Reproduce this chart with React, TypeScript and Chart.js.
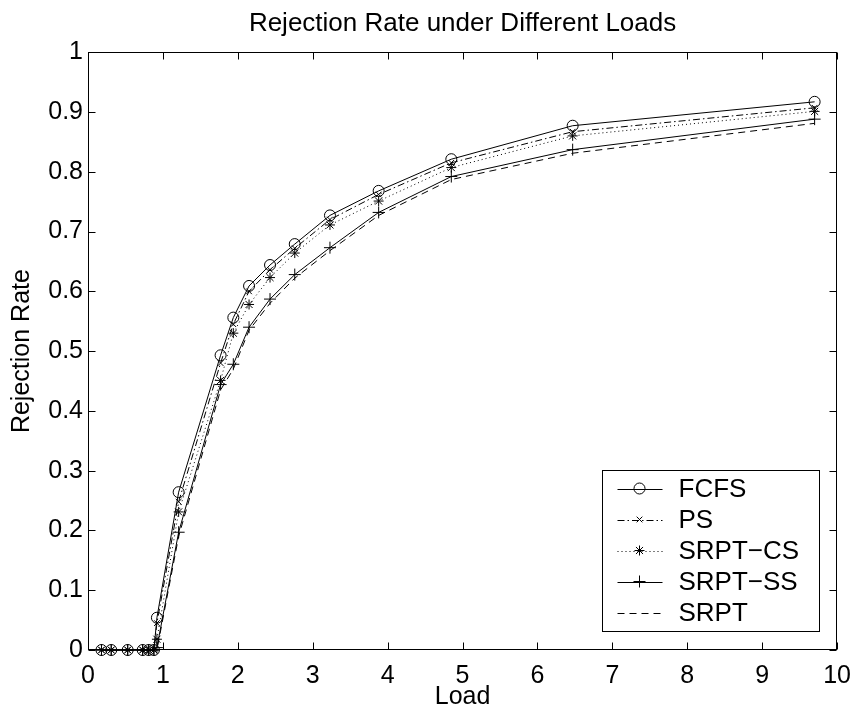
import React, { useEffect, useRef } from 'react';
import { Chart, registerables } from 'chart.js';

Chart.register(...registerables);

const loads = [0.18, 0.31, 0.53, 0.73, 0.81, 0.88, 0.92, 1.21, 1.77, 1.94, 2.15, 2.43, 2.76, 3.23, 3.88, 4.85, 6.47, 9.7];
const fcfs = [0, 0, 0, 0, 0, 0, 0.054, 0.264, 0.493, 0.556, 0.609, 0.644, 0.679, 0.727, 0.768, 0.821, 0.877, 0.917];
const ps = [0, 0, 0, 0, 0, 0, 0.045, 0.248, 0.48, 0.545, 0.6, 0.636, 0.672, 0.72, 0.762, 0.815, 0.867, 0.907];
const srptCs = [0, 0, 0, 0, 0, 0, 0.018, 0.231, 0.451, 0.53, 0.578, 0.623, 0.664, 0.711, 0.751, 0.807, 0.86, 0.901];
const srptSs = [0, 0, 0, 0, 0, 0, 0.004, 0.197, 0.444, 0.478, 0.54, 0.587, 0.628, 0.673, 0.732, 0.792, 0.837, 0.888];
const srpt = [0, 0, 0, 0, 0, 0, 0, 0.19, 0.435, 0.47, 0.535, 0.58, 0.622, 0.668, 0.727, 0.787, 0.831, 0.881];

const seriesNames = ['FCFS', 'PS', 'SRPT-CS', 'SRPT-SS', 'SRPT'];
const legendLabels = ['FCFS', 'PS', 'SRPT\u2212CS', 'SRPT\u2212SS', 'SRPT'];
const xTickLabels = ['0', '1', '2', '3', '4', '5', '6', '7', '8', '9', '10'];
const yTickLabels = ['0', '0.1', '0.2', '0.3', '0.4', '0.5', '0.6', '0.7', '0.8', '0.9', '1'];
const titleText = 'Rejection Rate under Different Loads';
const xTitle = 'Load';
const yTitle = 'Rejection Rate';

const FONT = "'Liberation Sans', Arial, Helvetica, sans-serif";

const styles = [
  { dash: [], point: 'circle', r: 5.5 },
  { dash: [7, 3, 1.5, 3], point: 'crossRot', r: 4 },
  { dash: [1, 3], point: 'star', r: 5 },
  { dash: [], point: 'cross', r: 6 },
  { dash: [7, 5], point: 'none', r: 0 },
];

function drawMarker(ctx: CanvasRenderingContext2D, kind: string, x: number, y: number, r: number) {
  ctx.save();
  ctx.setLineDash([]);
  ctx.beginPath();
  if (kind === 'circle') {
    ctx.arc(x, y, r, 0, Math.PI * 2);
  } else if (kind === 'cross' || kind === 'star') {
    ctx.moveTo(x - r, y); ctx.lineTo(x + r, y);
    ctx.moveTo(x, y - r); ctx.lineTo(x, y + r);
  }
  if (kind === 'crossRot' || kind === 'star') {
    const d = r * Math.SQRT1_2;
    ctx.moveTo(x - d, y - d); ctx.lineTo(x + d, y + d);
    ctx.moveTo(x - d, y + d); ctx.lineTo(x + d, y - d);
  }
  ctx.stroke();
  ctx.restore();
}

const boxPlugin = {
  id: 'matlabBox',
  afterDatasetsDraw(chart: any) {
    const { ctx, chartArea: a, scales } = chart;
    const L = Math.round(a.left) + 0.5;
    const R = Math.round(a.right) - 0.5;
    const T = Math.round(a.top) + 0.5;
    const B = Math.round(a.bottom) - 0.5;
    ctx.save();
    ctx.strokeStyle = '#000';
    ctx.lineWidth = 1;
    ctx.setLineDash([]);
    ctx.strokeRect(L, T, R - L, B - T);
    const tl = 7;
    ctx.beginPath();
    scales.x.ticks.forEach((t: any) => {
      const px = Math.round(scales.x.getPixelForValue(t.value)) + 0.5;
      ctx.moveTo(px, B); ctx.lineTo(px, B - tl);
      ctx.moveTo(px, T); ctx.lineTo(px, T + tl);
    });
    scales.y.ticks.forEach((t: any) => {
      const py = Math.round(scales.y.getPixelForValue(t.value)) + 0.5;
      ctx.moveTo(L, py); ctx.lineTo(L + tl, py);
      ctx.moveTo(R, py); ctx.lineTo(R - tl, py);
    });
    ctx.stroke();

    // legend
    const lw = 217, lh = 161;
    const lx = Math.round(a.right - 18 - lw) + 0.5;
    const ly = Math.round(a.bottom - 19 - lh) + 0.5;
    ctx.fillStyle = '#fff';
    ctx.fillRect(lx, ly, lw, lh);
    ctx.strokeRect(lx, ly, lw, lh);
    ctx.font = `26px ${FONT}`;
    ctx.textBaseline = 'middle';
    ctx.textAlign = 'left';
    legendLabels.forEach((label, i) => {
      const cy = ly + 18 + i * 31;
      const s = styles[i];
      ctx.beginPath();
      ctx.setLineDash(s.dash);
      ctx.moveTo(lx + 15, Math.round(cy) + 0.5);
      ctx.lineTo(lx + 60, Math.round(cy) + 0.5);
      ctx.stroke();
      if (s.point !== 'none') drawMarker(ctx, s.point, lx + 37, cy, s.r);
      ctx.fillStyle = '#000';
      ctx.fillText(label, lx + 76, cy + 1);
    });
    ctx.restore();
  },
};

export default function App() {
  const ref = useRef<HTMLCanvasElement | null>(null);
  useEffect(() => {
    if (!ref.current) return;
    const series = [fcfs, ps, srptCs, srptSs, srpt];
    const datasets = series.map((vals, i) => ({
      label: seriesNames[i],
      data: loads.map((x, j) => ({ x, y: vals[j] })),
      borderColor: '#000',
      borderWidth: 1,
      borderDash: styles[i].dash,
      pointStyle: styles[i].point === 'none' ? false : styles[i].point,
      pointRadius: styles[i].r,
      pointBorderColor: '#000',
      pointBackgroundColor: 'rgba(0,0,0,0)',
      pointBorderWidth: 1,
      tension: 0,
      fill: false,
      clip: false,
    }));
    const chart = new Chart(ref.current, {
      type: 'line',
      data: { datasets } as any,
      plugins: [boxPlugin],
      options: {
        animation: false,
        responsive: false,
        devicePixelRatio: 1,
        layout: { padding: { left: 0, right: 17, top: 0, bottom: 0 } },
        plugins: {
          legend: { display: false },
          tooltip: { enabled: false },
          title: {
            display: true,
            text: titleText,
            fullSize: false,
            color: '#000',
            font: { family: FONT, size: 26, weight: 'normal' },
            padding: { top: 8, bottom: 13 },
          },
        },
        scales: {
          x: {
            type: 'linear',
            min: 0,
            max: 10,
            afterBuildTicks: (s: any) => { s.ticks = xTickLabels.map((_, i) => ({ value: i })); },
            afterFit: (s: any) => { s.height = 58; },
            ticks: {
              callback: (v: any) => xTickLabels[Math.round(Number(v))],
              color: '#000',
              font: { family: FONT, size: 25 },
              padding: 11,
              maxRotation: 0,
              autoSkip: false,
            },
            grid: { display: false, drawTicks: false },
            border: { display: false },
            title: {
              display: true,
              text: xTitle,
              color: '#000',
              font: { family: FONT, size: 25, lineHeight: 1 },
              padding: { top: 0, bottom: -2 },
            },
          },
          y: {
            type: 'linear',
            min: 0,
            max: 1,
            afterBuildTicks: (s: any) => { s.ticks = yTickLabels.map((_, i) => ({ value: i / 10 })); },
            afterFit: (s: any) => { s.width = 88; },
            ticks: {
              callback: (v: any) => yTickLabels[Math.round(Number(v) * 10)],
              color: '#000',
              font: { family: FONT, size: 25 },
              padding: 5,
              autoSkip: false,
            },
            grid: { display: false, drawTicks: false },
            border: { display: false },
            title: {
              display: true,
              text: yTitle,
              color: '#000',
              font: { family: FONT, size: 25 },
              padding: { top: 7, bottom: 0 },
            },
          },
        },
      } as any,
    });
    return () => chart.destroy();
  }, []);
  return (
    <div style={{ position: 'absolute', left: 0, top: 0, width: 862, height: 708, background: '#fff' }}>
      <canvas ref={ref} width={862} height={708} style={{ display: 'block' }} />
    </div>
  );
}
